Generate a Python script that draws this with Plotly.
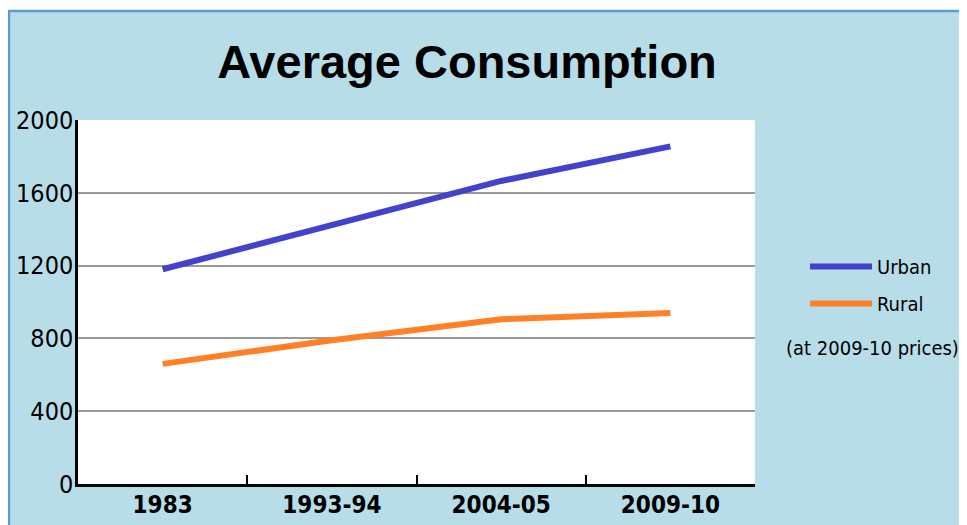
import plotly.graph_objects as go

categories = ["1983", "1993-94", "2004-05", "2009-10"]
urban = [1180, 1425, 1665, 1855]
rural = [660, 790, 905, 940]
y_ticks = [0, 400, 800, 1200, 1600, 2000]

BG = "#b7dde8"
COND = "DejaVu Sans Condensed, DejaVu Sans, sans-serif"

# The page body adds an 8px margin; figure coordinates are screen - 8.
W, H = 959, 517
L, R, T, B = 70, 212, 112, 41
pw, ph = W - L - R, H - T - B

def px(x):
    return (x - L) / pw

def py(y):
    return (H - B - y) / ph

fig = go.Figure()
fig.add_trace(go.Scatter(x=categories, y=urban, mode="lines", name="Urban", legendgroup="u",
                         line=dict(color="#4242cc", width=6)))
fig.add_trace(go.Scatter(x=categories, y=rural, mode="lines", name="Rural", legendgroup="r",
                         line=dict(color="#ff8026", width=6)))

shapes = [
    dict(type="rect", xref="paper", yref="paper", x0=px(-2), x1=px(W + 2), y0=py(2), y1=py(-2),
         fillcolor="white", line=dict(width=0), layer="below"),
    dict(type="line", xref="paper", yref="paper", x0=px(1), x1=px(1), y0=py(H + 2), y1=py(2),
         line=dict(color="#5b9bd5", width=2.5)),
    dict(type="line", xref="paper", yref="paper", x0=px(0), x1=px(W + 2), y0=py(3), y1=py(3),
         line=dict(color="#5b9bd5", width=2.5)),
]

fig.update_layout(
    width=W, height=H,
    margin=dict(l=L, r=R, t=T, b=B, autoexpand=False),
    paper_bgcolor=BG,
    plot_bgcolor="white",
    title=dict(text="<b>Average Consumption</b>", x=459 / W, xanchor="center",
               y=1 - 54 / H, yanchor="middle",
               font=dict(family="Liberation Sans, Arial, sans-serif", size=47, color="black")),
    xaxis=dict(
        type="category", automargin=False, range=[-0.5, len(categories) - 0.5],
        showline=True, linecolor="black", linewidth=2.5,
        ticks="inside", tickson="boundaries", ticklen=9, tickwidth=2, tickcolor="black",
        showgrid=False, ticklabelstandoff=-3,
        tickfont=dict(family=COND, size=24, color="black", weight="bold"),
    ),
    yaxis=dict(
        range=[0, 2000], tickvals=y_ticks, automargin=False,
        showline=True, linecolor="black", linewidth=2.5,
        showgrid=True, gridcolor="#9a9a9a", gridwidth=1.6,
        zeroline=False, ticks="", ticklabelstandoff=-3,
        tickfont=dict(family=COND, size=25, color="black"),
    ),
    legend=dict(
        x=px(797), y=py(277), xanchor="left", yanchor="middle",
        bgcolor="rgba(0,0,0,0)", itemwidth=62,
        font=dict(family=COND, size=20, color="black"),
        tracegroupgap=8,
    ),
    showlegend=True,
    shapes=shapes,
    annotations=[
        dict(text="(at 2009-10 prices)", xref="paper", yref="paper",
             x=px(864), y=py(340), xanchor="center", yanchor="middle", showarrow=False,
             font=dict(family=COND, size=20, color="black")),
    ],
)

fig.write_html("out.html")
